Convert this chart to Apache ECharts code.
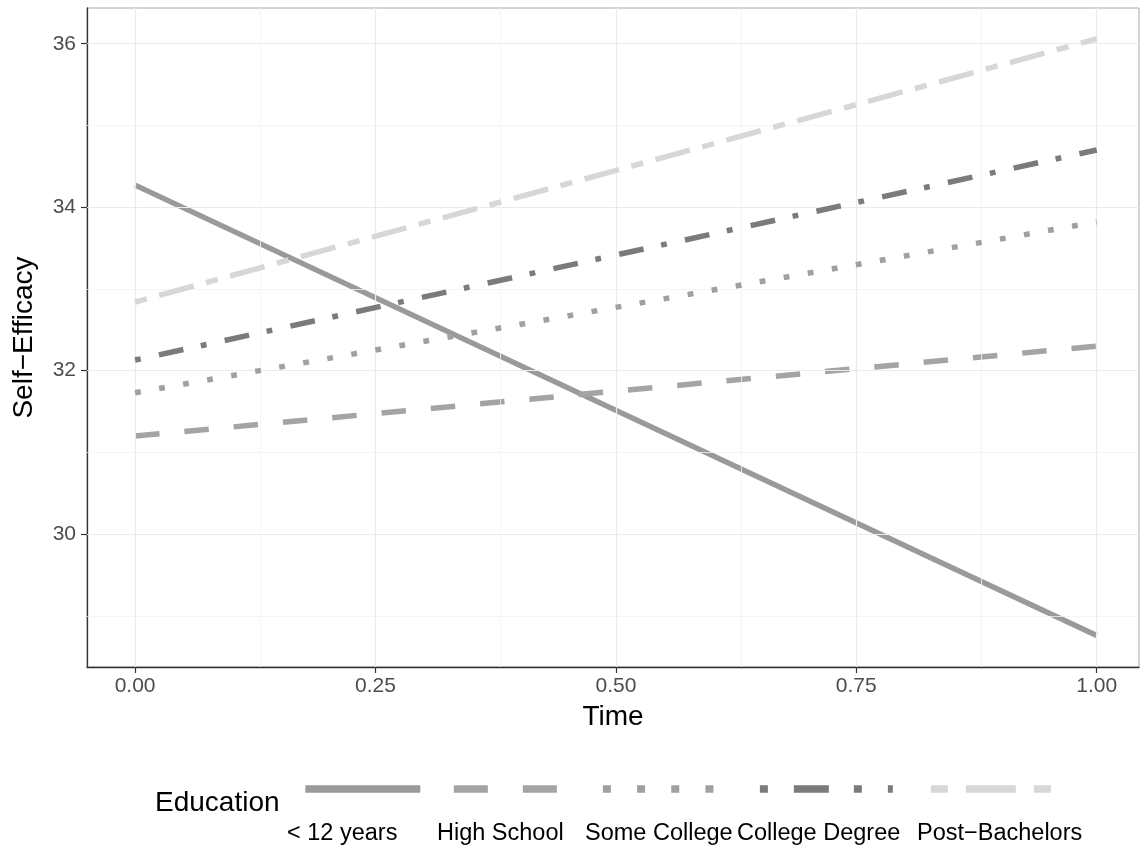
<!DOCTYPE html>
<html>
<head>
<meta charset="utf-8">
<script src="https://cdn.jsdelivr.net/npm/echarts@6/dist/echarts.min.js"></script>
<style>html,body{margin:0;padding:0;background:#fff}#c{width:1145px;height:850px}</style>
</head>
<body>
<div id="c"></div>
<script>
// ---- data ----
const timePoints = [0, 1];
const seriesNames = ['< 12 years', 'High School', 'Some College', 'College Degree', 'Post\u2212Bachelors'];
const lessThan12 = [34.27, 28.76];
const highSchool = [31.20, 32.30];
const someCollege = [31.73, 33.82];
const collegeDegree = [32.13, 34.70];
const postBachelors = [32.84, 36.06];
const xTicks = [0, 0.25, 0.5, 0.75, 1];
const xMinorTicks = [0.125, 0.375, 0.625, 0.875];
const yTicks = [30, 32, 34, 36];
const yMinorTicks = [29, 31, 33, 35];

// ---- styles ----
const seriesValues = [lessThan12, highSchool, someCollege, collegeDegree, postBachelors];
const colors = ['#9a9a9a', '#a4a4a4', '#a0a0a0', '#7b7b7b', '#d7d7d7'];
const plotDash = ['solid', [24.5, 25], [5.8, 18.6], [5.8, 18.6, 25, 17.9], [12.2, 12.8, 35.7, 12.8]];
const legendDash = ['solid', [34, 35], [8, 26.2], [8, 26, 35, 25], [17, 18, 50, 18]];
const keyLeft = [301.5, 450, 599, 756, 927];
const keyWidth = [115, 103, 111, 133, 120];
const labelLeft = [287, 437, 585, 737, 917];
const FONT = '"Liberation Sans", Arial, Helvetica, sans-serif';

const chart = echarts.init(document.getElementById('c'), null, {renderer: 'canvas'});

const gridLineData = [];
xMinorTicks.forEach(v => gridLineData.push({xAxis: v, lineStyle: {color: '#f3f3f3', width: 0.8, type: 'solid'}}));
yMinorTicks.forEach(v => gridLineData.push({yAxis: v, lineStyle: {color: '#f3f3f3', width: 0.8, type: 'solid'}}));
xTicks.forEach(v => gridLineData.push({xAxis: v, lineStyle: {color: '#ebebeb', width: 1.2, type: 'solid'}}));
yTicks.forEach(v => gridLineData.push({yAxis: v, lineStyle: {color: '#ebebeb', width: 1.2, type: 'solid'}}));

const series = [{
  name: '__grid',
  type: 'line',
  data: [],
  z: 1,
  silent: true,
  markLine: {
    silent: true,
    symbol: ['none', 'none'],
    label: {show: false},
    animation: false,
    data: gridLineData
  }
}];
seriesNames.forEach((n, i) => {
  series.push({
    name: n,
    type: 'line',
    z: 3 + i,
    data: timePoints.map((t, j) => [t, seriesValues[i][j]]),
    symbol: 'none',
    showSymbol: false,
    color: colors[i],
    lineStyle: {color: colors[i], width: 5.5, type: plotDash[i], cap: 'butt'},
    emphasis: {disabled: true},
    animation: false
  });
});

const legends = seriesNames.map((n, i) => ({
  data: [n],
  left: keyLeft[i],
  top: 785,
  padding: 0,
  itemGap: 0,
  itemWidth: keyWidth[i],
  itemHeight: 8,
  selectedMode: false,
  formatter: () => '',
  textStyle: {fontSize: 1},
  lineStyle: {width: 7.7, type: legendDash[i], color: colors[i], cap: 'butt'},
  itemStyle: {opacity: 0}
}));

const graphics = [{
  type: 'text', left: 155, top: 789,
  style: {text: 'Education', font: '28px ' + FONT, fill: '#000'}
}];
seriesNames.forEach((n, i) => {
  graphics.push({
    type: 'text', left: labelLeft[i], top: 822,
    style: {text: n, font: '23.5px ' + FONT, fill: '#000'}
  });
});

chart.setOption({
  animation: false,
  textStyle: {fontFamily: FONT},
  grid: {left: 87, top: 8, right: 6, bottom: 183, show: true, borderColor: '#a8a8a8', borderWidth: 1, containLabel: false},
  xAxis: {
    type: 'value', min: -0.05, max: 1.044,
    name: 'Time', nameLocation: 'middle', nameGap: 36,
    nameTextStyle: {fontSize: 28, color: '#000', fontFamily: FONT},
    axisLine: {show: true, onZero: false, lineStyle: {color: '#333', width: 1.3}},
    axisTick: {show: true, length: 6, customValues: xTicks, lineStyle: {color: '#333', width: 1.2}},
    axisLabel: {customValues: xTicks, formatter: v => Number(v).toFixed(2), fontSize: 21, color: '#4d4d4d', margin: 9, fontFamily: FONT},
    splitLine: {show: false}, minorSplitLine: {show: false}
  },
  yAxis: {
    type: 'value', min: 28.375, max: 36.437,
    name: 'Self\u2212Efficacy', nameLocation: 'middle', nameGap: 49, nameRotate: 90,
    nameTextStyle: {fontSize: 28, color: '#000', fontFamily: FONT},
    axisLine: {show: true, onZero: false, lineStyle: {color: '#333', width: 1.3}},
    axisTick: {show: true, length: 6, customValues: yTicks, lineStyle: {color: '#333', width: 1.2}},
    axisLabel: {customValues: yTicks, fontSize: 21, color: '#4d4d4d', margin: 11, fontFamily: FONT},
    splitLine: {show: false}, minorSplitLine: {show: false}
  },
  legend: legends,
  graphic: graphics,
  series: series
});
</script>
</body>
</html>
